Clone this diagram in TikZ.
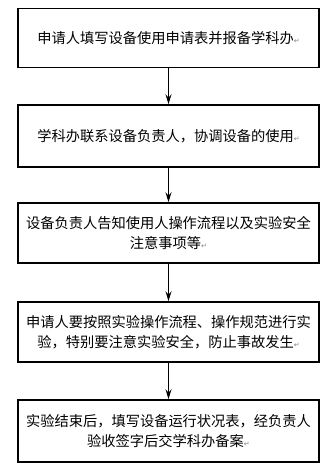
\documentclass[tikz,border=0pt]{standalone}
\usepackage{fontspec}
\newfontfamily\cjk{Noto Sans CJK SC}
\newfontfamily\dvs{DejaVu Sans}
\usetikzlibrary{arrows.meta}
\newcommand{\pmark}{{\dvs\fontsize{7}{7}\selectfont\textcolor{gray}{↵}}}
\tikzset{
  stepbox/.style={draw=black, line width=1.6bp, minimum width=301bp, inner sep=0pt,
    align=center, font=\cjk\fontsize{14.3}{20}\selectfont},
  flowarrow/.style={draw=black, line width=0.9bp, -{Stealth[length=10bp,width=6bp,inset=3.5bp]}}
}
\begin{document}
\begin{tikzpicture}[x=1bp,y=-1bp]
\useasboundingbox (0,0) rectangle (334,473);
\node[stepbox, minimum height=59bp] (b1) at (168.5,38) {申请人填写设备使用申请表并报备学科办\pmark};
\node[stepbox, minimum height=62bp] (b2) at (168.5,136) {学科办联系设备负责人，协调设备的使用\pmark};
\node[stepbox, minimum height=60bp] (b3) at (168.5,233) {设备负责人告知使用人操作流程以及实验安全\\注意事项等\pmark};
\node[stepbox, minimum height=60bp] (b4) at (168.5,332) {申请人要按照实验操作流程、操作规范进行实\\验，特别要注意实验安全，防止事故发生\pmark};
\node[stepbox, minimum height=62bp] (b5) at (168.5,431) {实验结束后，填写设备运行状况表，经负责人\\验收签字后交学科办备案\pmark};
\draw[flowarrow] (b1.south) -- (b2.north);
\draw[flowarrow] (b2.south) -- (b3.north);
\draw[flowarrow] (b3.south) -- (b4.north);
\draw[flowarrow] (b4.south) -- (b5.north);
\end{tikzpicture}
\end{document}
